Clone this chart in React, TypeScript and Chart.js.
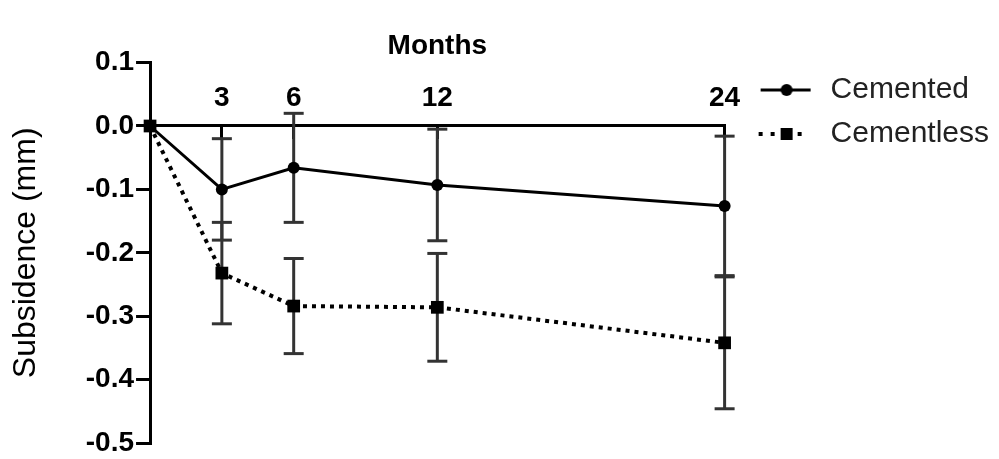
import React, { useEffect, useRef } from 'react';
import { Chart, registerables } from 'chart.js';

Chart.register(...registerables);

const FONT = '"Liberation Sans", Arial, Helvetica, sans-serif';

const months = [0, 3, 6, 12, 24];
const xTickValues = [3, 6, 12, 24];
const xTickLabels = ['3', '6', '12', '24'];
const yTickValues = [-0.5, -0.4, -0.3, -0.2, -0.1, 0.0, 0.1];
const yTickLabels = ['-0.5', '-0.4', '-0.3', '-0.2', '-0.1', '0.0', '0.1'];
const seriesNames = ['Cemented', 'Cementless'];
const cementedMean = [0, -0.1, -0.066, -0.093, -0.126];
const cementedSD = [0, 0.08, 0.086, 0.088, 0.11];
const cementlessMean = [0, -0.232, -0.284, -0.286, -0.342];
const cementlessSD = [0, 0.08, 0.075, 0.085, 0.104];

function makeIcon(draw: (g: CanvasRenderingContext2D) => void) {
  const c = document.createElement('canvas');
  c.width = 77;
  c.height = 24;
  const g = c.getContext('2d')!;
  draw(g);
  return c;
}

export default function App() {
  const ref = useRef<HTMLCanvasElement>(null);

  useEffect(() => {
    const canvas = ref.current;
    if (!canvas) return;

    const cementedIcon = makeIcon((g) => {
      g.strokeStyle = '#000';
      g.lineWidth = 3;
      g.beginPath();
      g.moveTo(22, 12);
      g.lineTo(72, 12);
      g.stroke();
      g.fillStyle = '#000';
      g.beginPath();
      g.arc(48, 12, 6, 0, Math.PI * 2);
      g.fill();
    });
    const cementlessIcon = makeIcon((g) => {
      g.fillStyle = '#000';
      [22, 34, 61].forEach((x) => g.fillRect(x - 2, 10, 4, 4));
      g.fillRect(42, 6, 12, 12);
    });

    const errorSets: any[] = [];
    const groups: [number[], number[]][] = [
      [cementedMean, cementedSD],
      [cementlessMean, cementlessSD],
    ];
    groups.forEach(([mean, sd]) => {
      months.forEach((m, i) => {
        if (sd[i] > 0) {
          errorSets.push({
            label: 'err',
            data: [
              { x: m, y: mean[i] - sd[i] },
              { x: m, y: mean[i] + sd[i] },
            ],
            borderColor: '#333',
            borderWidth: 3,
            pointStyle: 'line',
            pointRadius: 10,
            pointHoverRadius: 10,
            pointBorderWidth: 3,
            pointBorderColor: '#333',
            fill: false,
            clip: false,
            order: 2,
          });
        }
      });
    });

    const chart = new Chart(canvas, {
      type: 'line',
      data: {
        datasets: [
          {
            label: seriesNames[0],
            data: months.map((m, i) => ({ x: m, y: cementedMean[i] })),
            borderColor: '#000',
            borderWidth: 3,
            pointStyle: 'circle',
            pointRadius: 6,
            pointHoverRadius: 6,
            pointBackgroundColor: '#000',
            pointBorderWidth: 0,
            tension: 0,
            clip: false,
            order: 0,
          },
          {
            label: seriesNames[1],
            data: months.map((m, i) => ({ x: m, y: cementlessMean[i] })),
            borderColor: '#000',
            borderWidth: 4,
            borderDash: [4, 5],
            pointStyle: 'rect',
            pointRadius: 9,
            pointHoverRadius: 9,
            pointBackgroundColor: '#000',
            pointBorderWidth: 0,
            tension: 0,
            clip: false,
            order: 1,
          },
          ...errorSets,
        ],
      },
      options: {
        animation: false,
        responsive: false,
        maintainAspectRatio: false,
        events: [],
        layout: { padding: { left: 2, right: 0, top: 18, bottom: 16 } },
        plugins: {
          tooltip: { enabled: false },
          title: {
            display: true,
            text: 'Months',
            position: 'top',
            fullSize: false,
            align: 'center',
            color: '#000',
            font: { family: FONT, size: 28, weight: 'bold' },
            padding: { top: 11, bottom: 0 },
          },
          legend: {
            position: 'right',
            align: 'start',
            fullSize: true,
            maxWidth: 320,
            title: {
              display: true,
              text: ' ',
              font: { family: FONT, size: 10 },
              padding: { top: 31, bottom: 0 },
            },
            labels: {
              usePointStyle: true,
              pointStyleWidth: 77,
              padding: 14,
              color: '#222',
              font: { family: FONT, size: 30 },
              generateLabels: () => [
                {
                  text: seriesNames[0],
                  pointStyle: cementedIcon as any,
                  fillStyle: '#000',
                  strokeStyle: '#000',
                  fontColor: '#222',
                  lineWidth: 0,
                  hidden: false,
                  datasetIndex: 0,
                },
                {
                  text: seriesNames[1],
                  pointStyle: cementlessIcon as any,
                  fillStyle: '#000',
                  strokeStyle: '#000',
                  fontColor: '#222',
                  lineWidth: 0,
                  hidden: false,
                  datasetIndex: 1,
                },
              ],
            },
          },
        },
        scales: {
          x: {
            type: 'linear',
            position: { y: 0 } as any,
            min: 0,
            max: 24,
            afterBuildTicks: (s: any) => {
              s.ticks = xTickValues.map((v) => ({ value: v }));
            },
            ticks: {
              autoSkip: false,
              maxRotation: 0,
              minRotation: 0,
              padding: -56.8,
              color: '#000',
              font: { family: FONT, size: 28, weight: 'bold' },
              callback: (_v: any, i: number) => xTickLabels[i],
            },
            grid: {
              display: true,
              drawOnChartArea: false,
              drawTicks: true,
              tickLength: 12,
              tickWidth: 3,
              tickColor: '#000',
              color: '#000',
              lineWidth: 3,
            },
            border: { display: true, color: '#000', width: 3 },
          },
          y: {
            type: 'linear',
            position: 'left',
            min: -0.5,
            max: 0.1,
            afterBuildTicks: (s: any) => {
              s.ticks = yTickValues.map((v) => ({ value: v }));
            },
            ticks: {
              autoSkip: false,
              padding: 2,
              color: '#000',
              font: { family: FONT, size: 28, weight: 'bold', lineHeight: 1 },
              callback: (_v: any, i: number) => yTickLabels[i],
            },
            grid: {
              display: true,
              drawOnChartArea: false,
              drawTicks: true,
              tickLength: 14,
              tickWidth: 3,
              tickColor: '#000',
              color: '#000',
              lineWidth: 3,
            },
            border: { display: true, color: '#000', width: 3 },
            title: {
              display: true,
              text: 'Subsidence (mm)',
              color: '#000',
              font: { family: FONT, size: 32 },
              padding: { top: 4.8, bottom: 38.6 },
            },
          },
        },
      } as any,
    });

    return () => {
      chart.destroy();
    };
  }, []);

  return (
    <div style={{ position: 'fixed', left: 0, top: 0, width: 999, height: 459, background: '#fff' }}>
      <canvas ref={ref} width={999} height={459} style={{ display: 'block', width: 999, height: 459 }} />
    </div>
  );
}
